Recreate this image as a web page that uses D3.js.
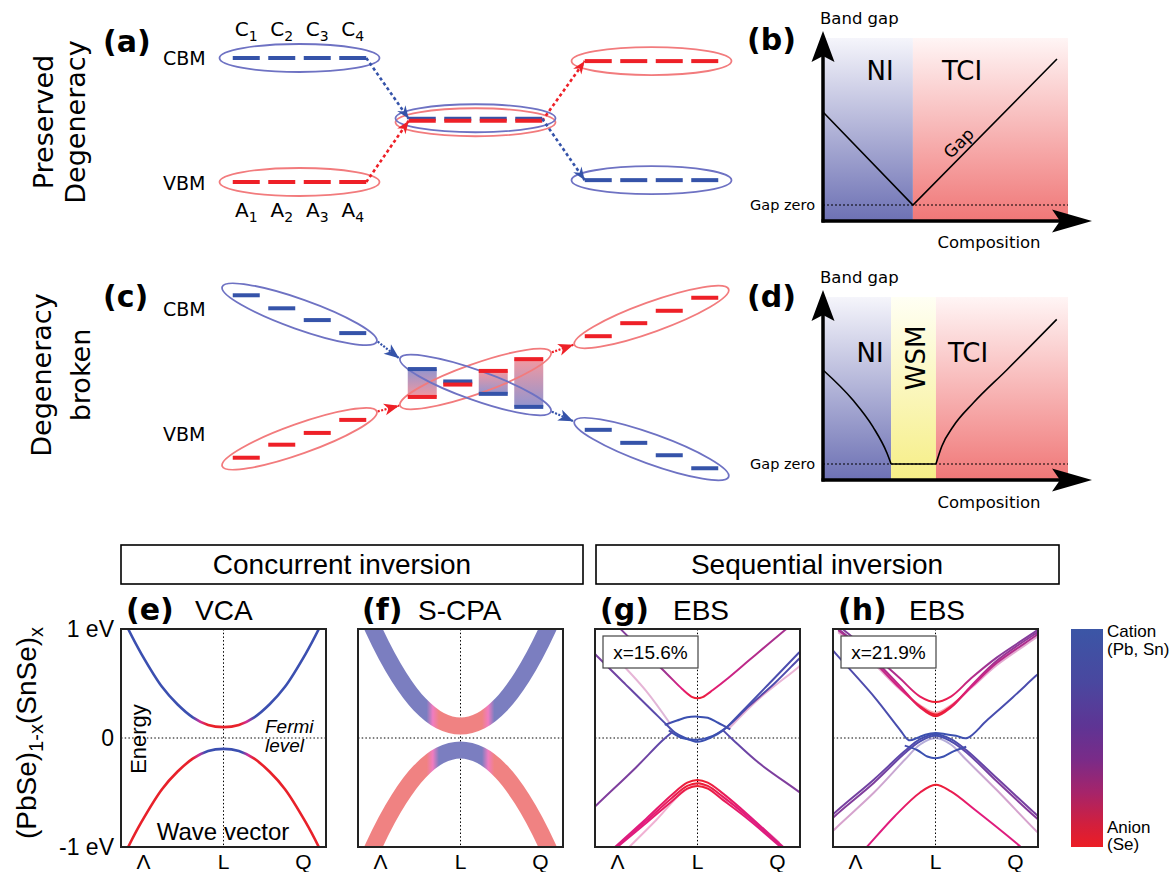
<!DOCTYPE html>
<html><head><meta charset="utf-8">
<script src="https://cdn.jsdelivr.net/npm/d3@7/dist/d3.min.js"></script>
<style>html,body{margin:0;padding:0;background:#fff;}svg{display:block;}</style>
</head><body>
<svg id="fig" width="1169" height="872" xmlns="http://www.w3.org/2000/svg"></svg>
<script>
// ====================== DATA ======================
const panelLabels = ["(a)","(b)","(c)","(d)","(e)","(f)","(g)","(h)"];
const rowTitleA = ["Preserved","Degeneracy"];
const rowTitleC = ["Degeneracy","broken"];
const edgeNames = ["CBM","VBM"];
const orbitalSubs = ["1","2","3","4"];

// (a) energy levels: stage 0 = end member, 1 = crossing, 2 = inverted
const levelsA = [
  {stage:0, E: 1.00, kind:"cation"},
  {stage:0, E:-1.00, kind:"anion"},
  {stage:1, E: 0.02, kind:"cation"},
  {stage:1, E:-0.012, kind:"anion"},
  {stage:2, E: 0.95, kind:"anion"},
  {stage:2, E:-0.97, kind:"cation"}
];
const arrowsA = [[0,2],[1,3],[3,4],[2,5]];

// (c) split levels
const groupsC = [
  {stage:0, kind:"cation", E:[1.31,1.10,0.91,0.70]},
  {stage:0, kind:"anion",  E:[-1.31,-1.10,-0.91,-0.70]},
  {stage:2, kind:"anion",  E:[0.65,0.86,1.06,1.27]},
  {stage:2, kind:"cation", E:[-0.86,-1.07,-1.27,-1.48]}
];
const midEllipsesC = [{kind:"anion", E:-0.04, tilt:-1},{kind:"cation", E:-0.137, tilt:1}];
const stacksC = [
  {top: 0.12, topKind:"cation", bot:-0.33, botKind:"anion"},
  {top:-0.08, topKind:"cation", bot:-0.13, botKind:"anion"},
  {top: 0.09, topKind:"anion",  bot:-0.28, botKind:"cation"},
  {top: 0.28, topKind:"anion",  bot:-0.49, botKind:"cation"}
];

// (b) phase diagram
const phasesB = [{name:"NI", x0:0, x1:0.367, fill:"blue"},{name:"TCI", x0:0.367, x1:1, fill:"red"}];
const gapB = [[0,0.557],[0.367,0],[0.955,0.874]];
// (d) phase diagram
const phasesD = [{name:"NI", x0:0, x1:0.278, fill:"blue"},{name:"WSM", x0:0.278, x1:0.461, fill:"yellow"},{name:"TCI", x0:0.461, x1:1, fill:"red"}];
const gapNID  = [[0,0.563],[0.122,0.383],[0.204,0.222],[0.261,0.066],[0.278,0]];
const gapWSMD = [[0.278,0],[0.461,0]];
const gapTCID = [[0.461,0],[0.485,0.106],[0.532,0.226],[0.613,0.365],[0.75,0.563],[0.954,0.866]];
const axisTexts = ["Band gap","Gap zero","Composition","Gap"];

// bottom panels
const boxTitles = ["Concurrent inversion","Sequential inversion"];
const methodTitles = ["VCA","S-CPA","EBS","EBS"];
const kTicks = [-0.78, 0, 0.78];
const kTickLabels = ["\u039B","L","Q"];
const eTicks = [1, 0, -1];
const eTickLabels = ["1 eV","0","-1 eV"];
const compLabels = ["x=15.6%","x=21.9%"];
const colorbarLabels = [["Cation","(Pb, Sn)"],["Anion","(Se)"]];

// (e) VCA bands
const kVCA = [-1.0,-0.93,-0.8,-0.6,-0.45,-0.3,-0.15,0,0.15,0.3,0.45,0.6,0.8,0.93,1.0];
const vcaCond = [1.14,1.0,0.77,0.47,0.31,0.19,0.12,0.10,0.12,0.19,0.31,0.47,0.77,1.0,1.14];
const vcaVal  = [-1.14,-1.0,-0.77,-0.47,-0.31,-0.19,-0.12,-0.10,-0.12,-0.19,-0.31,-0.47,-0.77,-1.0,-1.14];
const vcaCondW = {k:[-1,-0.3,-0.23,-0.16,0.16,0.23,0.3,1], w:[1,1,0.5,0,0,0.5,1,1]};
const vcaValW  = {k:[-1,-0.3,-0.24,-0.18,0.18,0.24,0.3,1], w:[0,0,0.5,1,1,0.5,0,0]};

// (f) S-CPA bands
const kCPA = [-1.05,-0.85,-0.6,-0.4,-0.2,0,0.2,0.4,0.6,0.85,1.05];
const cpaCond = [1.48,1.0,0.56,0.31,0.16,0.11,0.16,0.31,0.56,1.0,1.48];
const cpaVal  = [-1.48,-1.0,-0.56,-0.31,-0.16,-0.11,-0.16,-0.31,-0.56,-1.0,-1.48];
const cpaCondW = {k:[-1.1,-0.33,-0.27,-0.21,0.21,0.27,0.33,1.1], w:[1,1,0.5,0,0,0.5,1,1]};
const cpaValW  = {k:[-1.1,-0.33,-0.27,-0.21,0.21,0.27,0.33,1.1], w:[0,0,0.5,1,1,0.5,0,0]};

// (g) EBS x=15.6%
const ebsG = [
  {k:[-0.82,-0.74,-0.5,-0.3,-0.15,-0.05,0,0.05,0.15,0.3,0.5,0.7,0.854,0.92], E:[1.07,0.99,0.77,0.59,0.45,0.375,0.364,0.375,0.44,0.55,0.71,0.87,0.99,1.04], w:[0.5,0.5,0.47,0.38,0.15,0.03,0,0.03,0.12,0.22,0.3,0.34,0.36,0.36], op:1},
  {k:[-1.05,-1.0,-0.7,-0.45,-0.3,-0.22,-0.12,0,0.12,0.25,0.4,0.7,0.984,1.05], E:[0.82,0.77,0.49,0.26,0.12,0.05,0.0,-0.035,0.0,0.07,0.21,0.5,0.777,0.84], w:[0.55,0.55,0.62,0.72,0.85,0.95,1,1,1,0.95,0.92,0.88,0.85,0.85], op:1},
  {k:[-0.28,-0.15,0,0.15,0.3,0.5,0.75,0.984,1.05], E:[0.07,0.0,-0.015,0.02,0.11,0.29,0.5,0.72,0.78], w:[0.95,1,1,1,0.95,0.9,0.85,0.8,0.8], op:1},
  {k:[0.3,0.6,0.984,1.05], E:[0.08,0.36,0.65,0.71], w:[0.3,0.3,0.25,0.25], op:0.35},
  {k:[-0.32,-0.2,-0.1,0,0.1,0.2,0.32], E:[0.12,0.16,0.19,0.196,0.185,0.14,0.08], w:[0.9,1,1,1,1,1,0.9], op:1},
  {k:[-1.05,-1.0,-0.6,-0.35,-0.24], E:[-0.68,-0.63,-0.27,-0.03,0.06], w:[0.5,0.5,0.55,0.7,0.85], op:1},
  {k:[0.25,0.35,0.6,0.984,1.05], E:[0.07,-0.02,-0.23,-0.49,-0.54], w:[0.85,0.7,0.55,0.5,0.5], op:1},
  {k:[-0.78,-0.5,-0.27], E:[0.72,0.43,0.135], w:[0.3,0.3,0.4], op:0.35},
  {k:[-0.87,-0.805,-0.5,-0.25,-0.1,0,0.1,0.25,0.5,0.837,0.9], E:[-1.06,-1.0,-0.74,-0.52,-0.41,-0.385,-0.41,-0.51,-0.71,-1.0,-1.05], w:[0.18,0.18,0.15,0.08,0.02,0,0.02,0.08,0.15,0.18,0.18], op:1},
  {k:[-0.87,-0.805,-0.5,-0.25,-0.1,0,0.1,0.25,0.5,0.837,0.9], E:[-1.07,-1.01,-0.76,-0.55,-0.44,-0.415,-0.44,-0.54,-0.73,-1.01,-1.06], w:[0.18,0.18,0.15,0.08,0.02,0,0.02,0.08,0.15,0.18,0.18], op:1},
  {k:[-0.87,-0.805,-0.5,-0.25,-0.1,0,0.1,0.25,0.5,0.837,0.9], E:[-1.08,-1.02,-0.78,-0.58,-0.465,-0.44,-0.465,-0.57,-0.75,-1.02,-1.07], w:[0.18,0.18,0.15,0.08,0.02,0,0.02,0.08,0.15,0.18,0.18], op:1},
  {k:[-0.72,-0.4,-0.15,0], E:[-1.05,-0.75,-0.5,-0.42], w:[0.2,0.2,0.1,0.05], op:0.35},
  {k:[0,0.3,0.6,0.8], E:[-0.40,-0.58,-0.8,-0.96], w:[0.05,0.15,0.2,0.2], op:0.35}
];

// (h) EBS x=21.9%
const ebsH = [
  {k:[-0.95,-0.88,-0.6,-0.35,-0.15,0,0.15,0.35,0.6,0.98,1.05], E:[1.03,0.98,0.76,0.55,0.38,0.33,0.38,0.55,0.74,0.98,1.03], w:[0.5,0.5,0.45,0.3,0.1,0,0.1,0.3,0.45,0.5,0.5], op:1},
  {k:[-0.95,-0.88,-0.6,-0.35,-0.15,0,0.15,0.35,0.6,0.98,1.05], E:[1.0,0.95,0.72,0.48,0.28,0.20,0.28,0.48,0.71,0.96,1.0], w:[0.45,0.45,0.4,0.25,0.08,0,0.08,0.25,0.4,0.45,0.45], op:1},
  {k:[-0.95,-0.88,-0.6,-0.35,-0.15,0,0.15,0.35,0.6,0.98,1.05], E:[0.99,0.94,0.7,0.46,0.29,0.215,0.29,0.47,0.69,0.94,0.99], w:[0.35,0.35,0.3,0.2,0.06,0,0.06,0.2,0.3,0.35,0.35], op:1},
  {k:[-0.95,-0.88,-0.6,-0.35,-0.15,0,0.15,0.35,0.6,0.98,1.05], E:[0.97,0.92,0.68,0.45,0.30,0.23,0.30,0.46,0.67,0.92,0.97], w:[0.3,0.3,0.3,0.2,0.06,0,0.06,0.2,0.3,0.3,0.3], op:0.4},
  {k:[-1.03,-0.997,-0.6,-0.35,-0.26,-0.18,-0.1,0,0.1,0.2,0.31,0.5,0.75,0.98,1.03], E:[0.84,0.80,0.38,0.08,-0.02,0.0,0.03,0.045,0.035,0.02,0.0,0.16,0.37,0.57,0.61], w:[0.8,0.8,0.85,0.9,0.95,1,1,1,1,1,0.95,0.9,0.88,0.85,0.85], op:1},
  {k:[-1.03,-0.997,-0.6,-0.3,-0.15,0,0.15,0.3,0.6,0.98,1.03], E:[-0.74,-0.70,-0.38,-0.12,-0.01,0.035,-0.01,-0.11,-0.37,-0.70,-0.74], w:[0.55,0.55,0.6,0.75,0.9,1,0.9,0.75,0.6,0.55,0.55], op:1},
  {k:[-1.03,-0.997,-0.6,-0.3,-0.15,0,0.15,0.3,0.6,0.98,1.03], E:[-0.77,-0.73,-0.41,-0.14,-0.03,0.02,-0.03,-0.13,-0.4,-0.73,-0.77], w:[0.48,0.48,0.52,0.68,0.85,0.95,0.85,0.68,0.52,0.48,0.48], op:1},
  {k:[-1.03,-0.997,-0.6,-0.3,-0.15,0,0.15,0.3,0.6,0.98,1.03], E:[-0.89,-0.85,-0.5,-0.2,-0.06,0.0,-0.06,-0.2,-0.48,-0.85,-0.89], w:[0.35,0.35,0.4,0.55,0.7,0.8,0.7,0.55,0.4,0.35,0.35], op:0.45},
  {k:[-0.3,-0.18,-0.08,0,0.08,0.18,0.3], E:[-0.07,-0.11,-0.17,-0.186,-0.17,-0.12,-0.08], w:[0.9,1,1,1,1,1,0.9], op:1},
  {k:[-0.72,-0.67,-0.4,-0.15,0,0.15,0.4,0.833,0.88], E:[-1.05,-1.0,-0.72,-0.5,-0.43,-0.49,-0.67,-1.0,-1.04], w:[0.18,0.18,0.15,0.06,0,0.06,0.15,0.18,0.18], op:1}
];

// ====================== DRAWING ======================
const svg = d3.select("#fig");
const defs = svg.append("defs");
const FT = "'DejaVu Sans', sans-serif";
const FB = "'Liberation Sans', Arial, Helvetica, sans-serif";
const COL = {cationLine:"#3553a9", anionLine:"#ee2027", cationEll:"#6e72c3", anionEll:"#f27b7d"};
svg.append("rect").attr("width",1169).attr("height",872).attr("fill","#fff");

function txt(g, x, y, s, o={}) {
  const t = g.append("text").attr("x",x).attr("y",y)
    .attr("font-family", o.ff||FT).attr("font-size", o.fs||16).attr("fill", o.fill||"#000");
  if (s!=null) t.text(s);
  if (o.anchor) t.attr("text-anchor",o.anchor);
  if (o.bold) t.attr("font-weight","bold");
  if (o.italic) t.attr("font-style","italic");
  if (o.rot!=null) t.attr("transform",`rotate(${o.rot},${x},${y})`);
  return t;
}
let gid = 0;
function vGrad(stops){
  const id = "vg"+(gid++);
  const lg = defs.append("linearGradient").attr("id",id).attr("x1",0).attr("x2",0).attr("y1",0).attr("y2",1);
  stops.forEach(s=>lg.append("stop").attr("offset",s[0]).attr("stop-color",s[1]).attr("stop-opacity",s[2]==null?1:s[2]));
  return `url(#${id})`;
}
function xGrad(x1,x2,stops){
  const id = "xg"+(gid++);
  const lg = defs.append("linearGradient").attr("id",id).attr("gradientUnits","userSpaceOnUse")
    .attr("x1",x1).attr("x2",x2).attr("y1",0).attr("y2",0);
  stops.forEach(s=>lg.append("stop").attr("offset",Math.max(0,Math.min(1,(s[0]-x1)/(x2-x1)))).attr("stop-color",s[1]));
  return `url(#${id})`;
}
function mk(id,color,len,half,notch){
  defs.append("marker").attr("id",id).attr("markerUnits","userSpaceOnUse")
    .attr("viewBox",`${-len-1} ${-half-1} ${len+2} ${2*half+2}`)
    .attr("markerWidth",len+2).attr("markerHeight",2*half+2)
    .attr("refX",0).attr("refY",0).attr("orient","auto")
    .append("path").attr("d",`M0,0 L${-len},${-half} L${-len+notch},0 L${-len},${half} Z`).attr("fill",color);
}
mk("arAc",COL.cationLine,13,5,4); mk("arAa",COL.anionLine,13,5,4);
mk("arCc",COL.cationLine,15,6,4); mk("arCa",COL.anionLine,15,6,4);

const lineC = k => k==="cation" ? COL.cationLine : COL.anionLine;
const ellC  = k => k==="cation" ? COL.cationEll : COL.anionEll;

// ---- panel labels ----
const labPos = [[103,52],[747,50],[103,307],[747,307],[126,620],[362,620],[600,620],[838,620]];
panelLabels.forEach((s,i)=>txt(svg,labPos[i][0],labPos[i][1],s,{fs:30,bold:true}));

// ====================== (a) ======================
const xStage = d3.scaleLinear().domain([0,2]).range([299.5,651.5]);
const DSTEP = 35.5, DW = 27, offs = [-1.5,-0.5,0.5,1.5];
const yA = d3.scaleLinear().domain([-1,1]).range([182,58]);
const gA = svg.append("g");
rowTitleA.forEach((s,i)=>txt(gA,[52.5,85][i],122,s,{fs:27,anchor:"middle",rot:-90}));
txt(gA,163,yA(1)+7,edgeNames[0],{fs:19});
txt(gA,163,yA(-1)+8,edgeNames[1],{fs:19});
orbitalSubs.forEach((s,i)=>{
  const cx = xStage(0)+offs[i]*DSTEP;
  const t1 = txt(gA,cx,36,null,{fs:20,anchor:"middle"});
  t1.append("tspan").text("C"); t1.append("tspan").attr("font-size",14).attr("dy",5).text(s);
  const t2 = txt(gA,cx,217,null,{fs:20,anchor:"middle"});
  t2.append("tspan").text("A"); t2.append("tspan").attr("font-size",14).attr("dy",5).text(s);
});
[...levelsA].sort((a,b)=>(a.kind==="anion"?0:1)-(b.kind==="anion"?0:1)).forEach(l=>{
  gA.append("ellipse").attr("cx",xStage(l.stage)).attr("cy",yA(l.E)+(l.stage===1?(l.kind==="anion"?1.5:-0.5):0))
    .attr("rx",80).attr("ry",14).attr("fill","none").attr("stroke",ellC(l.kind)).attr("stroke-width",1.8);
});
[...levelsA].sort((a,b)=>(a.kind==="cation"?0:1)-(b.kind==="cation"?0:1)).forEach(l=>{
  offs.forEach(o=>{
    const cx = xStage(l.stage)+o*DSTEP;
    gA.append("line").attr("x1",cx-DW/2).attr("x2",cx+DW/2).attr("y1",yA(l.E)).attr("y2",yA(l.E))
      .attr("stroke",lineC(l.kind)).attr("stroke-width",4);
  });
});
arrowsA.forEach(([i,j])=>{
  const f = levelsA[i], t = levelsA[j];
  gA.append("line")
    .attr("x1",xStage(f.stage)+1.5*DSTEP+DW/2).attr("y1",yA(f.E))
    .attr("x2",xStage(t.stage)-1.5*DSTEP-DW/2).attr("y2",yA(t.E))
    .attr("stroke",lineC(f.kind)).attr("stroke-width",2.6).attr("stroke-dasharray","3.2,2.8")
    .attr("marker-end",`url(#${f.kind==="cation"?"arAc":"arAa"})`);
});

// ====================== (c) ======================
const yC = d3.scaleLinear().domain([-1,1]).range([438.5,314.5]);
const gC = svg.append("g");
rowTitleC.forEach((s,i)=>txt(gC,[51,89.5][i],375,s,{fs:27,anchor:"middle",rot:-90}));
txt(gC,163,yC(1)+1.5,edgeNames[0],{fs:19});
txt(gC,163,yC(-1)+2.5,edgeNames[1],{fs:19});
groupsC.forEach(g=>{
  const pts = g.E.map((e,i)=>[xStage(g.stage)+offs[i]*DSTEP, yC(e)]);
  const cx = d3.mean(pts,p=>p[0]), cy = d3.mean(pts,p=>p[1]);
  const ang = Math.atan2(pts[3][1]-pts[0][1], pts[3][0]-pts[0][0]);
  g._ell = {cx,cy,ang,rx:82};
  g._pts = pts;
});
midEllipsesC.forEach(m=>{ m._ell = {cx:xStage(1), cy:yC(m.E), ang:m.tilt*19.5*Math.PI/180, rx:80}; });
stacksC.forEach((s,i)=>{
  const cx = xStage(1)+offs[i]*DSTEP, w = 29;
  const topCol = s.topKind==="cation" ? "#7f82c6" : "#f0868f";
  const botCol = s.botKind==="cation" ? "#7f82c6" : "#f0868f";
  gC.append("rect").attr("x",cx-w/2).attr("width",w).attr("y",yC(s.top)).attr("height",yC(s.bot)-yC(s.top))
    .attr("fill",vGrad([[0,topCol,0.85],[1,botCol,0.85]]));
});
function drawEll(e,kind){
  gC.append("ellipse").attr("cx",0).attr("cy",0).attr("rx",e.rx).attr("ry",15)
    .attr("transform",`translate(${e.cx},${e.cy}) rotate(${e.ang*180/Math.PI})`)
    .attr("fill","none").attr("stroke",ellC(kind)).attr("stroke-width",1.8);
}
groupsC.forEach(g=>drawEll(g._ell,g.kind));
midEllipsesC.forEach(m=>drawEll(m._ell,m.kind));
stacksC.forEach((s,i)=>{
  const cx = xStage(1)+offs[i]*DSTEP, w = 29;
  [[s.top,s.topKind],[s.bot,s.botKind]].sort((a,b)=>(a[1]==="cation"?0:1)-(b[1]==="cation"?0:1)).forEach(([e,k])=>{
    gC.append("line").attr("x1",cx-w/2).attr("x2",cx+w/2).attr("y1",yC(e)).attr("y2",yC(e))
      .attr("stroke",lineC(k)).attr("stroke-width",4);
  });
});
groupsC.forEach(g=>{
  g._pts.forEach(p=>{
    gC.append("line").attr("x1",p[0]-DW/2).attr("x2",p[0]+DW/2).attr("y1",p[1]).attr("y2",p[1])
      .attr("stroke",lineC(g.kind)).attr("stroke-width",4);
  });
});
const endOf = (e,s)=>[e.cx+s*e.rx*Math.cos(e.ang), e.cy+s*e.rx*Math.sin(e.ang)];
const arrowsC = [
  [groupsC[0]._ell, midEllipsesC[1]._ell, "cation"],
  [groupsC[1]._ell, midEllipsesC[0]._ell, "anion"],
  [midEllipsesC[0]._ell, groupsC[2]._ell, "anion"],
  [midEllipsesC[1]._ell, groupsC[3]._ell, "cation"]
];
arrowsC.forEach(([a,b,k])=>{
  const p1 = endOf(a,1), p2 = endOf(b,-1);
  gC.append("line").attr("x1",p1[0]+1).attr("y1",p1[1]).attr("x2",p2[0]-1).attr("y2",p2[1])
    .attr("stroke",lineC(k)).attr("stroke-width",2.2).attr("stroke-dasharray","2,1.5")
    .attr("marker-end",`url(#${k==="cation"?"arCc":"arCa"})`);
});

// ====================== (b) & (d) ======================
const bgFill = {
  blue: vGrad([[0,"#f5f5fb"],[1,"#6d71b4"]]),
  red: vGrad([[0,"#fff5f5"],[1,"#f07777"]]),
  yellow: vGrad([[0,"#fffff4"],[1,"#f6ee86"]])
};
function phasePanel(cfg){
  const g = svg.append("g");
  const x = d3.scaleLinear().domain([0,1]).range([823,1068]);
  const y = d3.scaleLinear().domain([0,1]).range([cfg.zeroY, cfg.zeroY-167]);
  cfg.phases.forEach(p=>{
    g.append("rect").attr("x",x(p.x0)).attr("width",x(p.x1)-x(p.x0))
      .attr("y",cfg.top).attr("height",cfg.axisY-cfg.top).attr("fill",bgFill[p.fill]);
  });
  g.append("line").attr("x1",x(0)).attr("x2",x(1)).attr("y1",y(0)).attr("y2",y(0))
    .attr("stroke","#000").attr("stroke-width",1).attr("stroke-dasharray","2,2");
  const ln = d3.line().x(d=>x(d[0])).y(d=>y(d[1]));
  cfg.lines.forEach(L=>{
    g.append("path").attr("d",ln.curve(L.curve||d3.curveLinear)(L.pts)).attr("fill","none")
      .attr("stroke","#000").attr("stroke-width",1.6);
  });
  g.append("line").attr("x1",823).attr("x2",823).attr("y1",cfg.axisY+1.5).attr("y2",cfg.tipY+20).attr("stroke","#000").attr("stroke-width",3.5);
  g.append("line").attr("x1",821.5).attr("x2",1070).attr("y1",cfg.axisY).attr("y2",cfg.axisY).attr("stroke","#000").attr("stroke-width",3.5);
  g.append("path").attr("d",`M823,${cfg.tipY} L834.5,${cfg.tipY+31} L823,${cfg.tipY+25} L811.5,${cfg.tipY+31} Z`).attr("fill","#000");
  g.append("path").attr("d",`M1092,${cfg.axisY} L1052,${cfg.axisY+11.5} L1060,${cfg.axisY} L1052,${cfg.axisY-11.5} Z`).attr("fill","#000");
  txt(g,820,cfg.bandGapY,axisTexts[0],{fs:16.5});
  txt(g,815,y(0)+5,axisTexts[1],{fs:14.5,anchor:"end"});
  txt(g,989,cfg.compY,axisTexts[2],{fs:16.5,anchor:"middle"});
  cfg.labels.forEach(l=>txt(g,l.x,l.y,l.s,{fs:l.fs||26,anchor:"middle",rot:l.rot}));
  return {g,x,y};
}
const pb = phasePanel({top:38, axisY:221, zeroY:205, tipY:31, bandGapY:24, compY:248, phases:phasesB,
  lines:[{pts:gapB}],
  labels:[{s:phasesB[0].name,x:880,y:80},{s:phasesB[1].name,x:962,y:80}]});
{
  const xs=pb.x, ys=pb.y, a=gapB[1], b=gapB[2], t=0.372;
  const px = xs(a[0]+t*(b[0]-a[0])), py = ys(a[1]+t*(b[1]-a[1]));
  const ang = Math.atan2(ys(b[1])-ys(a[1]), xs(b[0])-xs(a[0]))*180/Math.PI;
  pb.g.append("text").attr("x",0).attr("y",-5).attr("text-anchor","middle").attr("font-family",FT).attr("font-size",17)
    .attr("transform",`translate(${px},${py}) rotate(${ang})`).text(axisTexts[3]);
}
phasePanel({top:297, axisY:480, zeroY:464, tipY:290, bandGapY:283, compY:508, phases:phasesD,
  lines:[{pts:gapNID,curve:d3.curveMonotoneX},{pts:gapWSMD},{pts:gapTCID,curve:d3.curveMonotoneX}],
  labels:[{s:phasesD[0].name,x:870,y:362},{s:phasesD[1].name,x:925,y:358,rot:-90},{s:phasesD[2].name,x:968,y:362}]});

// ====================== bottom panels ======================
const gB = svg.append("g");
const boxes = [[121,583],[596,1059]];
const boxTextX = [342,817];
boxTitles.forEach((s,i)=>{
  gB.append("rect").attr("x",boxes[i][0]).attr("y",545).attr("width",boxes[i][1]-boxes[i][0]).attr("height",39)
    .attr("fill","#fff").attr("stroke","#000").attr("stroke-width",1.6);
  txt(gB,boxTextX[i],574,s,{ff:FB,fs:28,anchor:"middle"});
});
const titleX = [195,418,673,909];
methodTitles.forEach((s,i)=>txt(gB,titleX[i],620,s,{ff:FB,fs:28}));

const PX0 = [121,358,595,833], PW = 205, PT = 629, PBm = 847;
const yE = d3.scaleLinear().domain([-1,1]).range([PBm,PT]);
const bandScale = d3.scaleLinear().domain([0,0.15,0.45,0.7,1])
  .range(["#ee1e2c","#e31b7c","#8c3a98","#5e48aa","#3b50b0"]);
const vcaScale = d3.scaleLinear().domain([0,0.5,1]).range(["#e8212a","#cf2f98","#3b4fb0"]);
const cpaScale = d3.scaleLinear().domain([0,0.5,1]).range(["#f08282","#f07cc0","#7b7ec0"]);

function panelFrame(i){
  const x0 = PX0[i];
  const xK = d3.scaleLinear().domain([-1,1]).range([x0,x0+PW]);
  const cid = "clip"+i;
  defs.append("clipPath").attr("id",cid).append("rect").attr("x",x0).attr("y",PT).attr("width",PW).attr("height",PBm-PT);
  const g = gB.append("g");
  const inner = g.append("g").attr("clip-path",`url(#${cid})`);
  inner.append("line").attr("x1",xK(0)).attr("x2",xK(0)).attr("y1",PT).attr("y2",PBm)
    .attr("stroke","#000").attr("stroke-width",1).attr("stroke-dasharray","1.5,2.2");
  inner.append("line").attr("x1",x0).attr("x2",x0+PW).attr("y1",yE(0)).attr("y2",yE(0))
    .attr("stroke","#000").attr("stroke-width",1).attr("stroke-dasharray","1.5,2.2");
  kTicks.forEach((k,j)=>txt(g,xK(k),869,kTickLabels[j],{ff:FB,fs:21,anchor:"middle"}));
  return {g,inner,xK,x0};
}
function frameRect(p){
  p.g.append("rect").attr("x",p.x0).attr("y",PT).attr("width",PW).attr("height",PBm-PT)
    .attr("fill","none").attr("stroke","#222").attr("stroke-width",2);
}
function bandPath(p, ks, Es, stroke, width, op){
  const ln = d3.line().x(d=>p.xK(d[0])).y(d=>yE(d[1])).curve(d3.curveCatmullRom.alpha(0.5));
  p.inner.append("path").attr("d",ln(ks.map((k,i)=>[k,Es[i]]))).attr("fill","none")
    .attr("stroke",stroke).attr("stroke-width",width).attr("stroke-opacity",op==null?1:op)
    .attr("stroke-linejoin","round");
}
function gradFromW(p, wk, ww, scale){
  return xGrad(p.xK(wk[0]), p.xK(wk[wk.length-1]), wk.map((k,i)=>[p.xK(k), scale(ww[i])]));
}

// (e)
{
  const p = panelFrame(0);
  bandPath(p,kVCA,vcaCond,gradFromW(p,vcaCondW.k,vcaCondW.w,vcaScale),2.6);
  bandPath(p,kVCA,vcaVal,gradFromW(p,vcaValW.k,vcaValW.w,vcaScale),2.6);
  txt(p.g,146,739,"Energy",{ff:FB,fs:22,anchor:"middle",rot:-90});
  txt(p.g,265,733,"Fermi",{ff:FB,fs:19,italic:true});
  txt(p.g,265,752,"level",{ff:FB,fs:19,italic:true});
  txt(p.g,223,840,"Wave vector",{ff:FB,fs:24,anchor:"middle"});
  frameRect(p);
  eTicks.forEach((e,j)=>txt(gB,114,yE(e)+8,eTickLabels[j],{ff:FB,fs:23,anchor:"end"}));
  const t = txt(gB,36,733,null,{ff:FB,fs:28,anchor:"middle",rot:-90});
  t.append("tspan").text("(PbSe)");
  t.append("tspan").attr("font-size",20).attr("dy",7).text("1-x");
  t.append("tspan").attr("dy",-7).text("(SnSe)");
  t.append("tspan").attr("font-size",20).attr("dy",7).text("x");
}
// (f)
{
  const p = panelFrame(1);
  bandPath(p,kCPA,cpaCond,gradFromW(p,cpaCondW.k,cpaCondW.w,cpaScale),17);
  bandPath(p,kCPA,cpaVal,gradFromW(p,cpaValW.k,cpaValW.w,cpaScale),17);
  frameRect(p);
}
// (g),(h)
[[2,ebsG,0],[3,ebsH,1]].forEach(([pi,bands,li])=>{
  const p = panelFrame(pi);
  bands.forEach(b=>bandPath(p,b.k,b.E,gradFromW(p,b.k,b.w,bandScale),2,b.op));
  frameRect(p);
  p.g.append("rect").attr("x",p.x0+8).attr("y",636).attr("width",95).attr("height",32)
    .attr("fill","#fff").attr("stroke","#444").attr("stroke-width",1.2);
  txt(p.g,p.x0+8+47.5,659,compLabels[li],{ff:FB,fs:19,anchor:"middle"});
});

// colorbar
gB.append("rect").attr("x",1071).attr("y",PT).attr("width",32).attr("height",PBm-PT)
  .attr("fill",vGrad([[0,"#3b56a6"],[0.25,"#4a479f"],[0.45,"#5f3494"],[0.6,"#7a2b88"],[0.75,"#a6246a"],[0.9,"#d31f3c"],[1,"#ec1d25"]]));
txt(gB,1107,637,colorbarLabels[0][0],{ff:FB,fs:17});
txt(gB,1107,655,colorbarLabels[0][1],{ff:FB,fs:17});
txt(gB,1107,833,colorbarLabels[1][0],{ff:FB,fs:17});
txt(gB,1107,850,colorbarLabels[1][1],{ff:FB,fs:17});
</script></body></html>
